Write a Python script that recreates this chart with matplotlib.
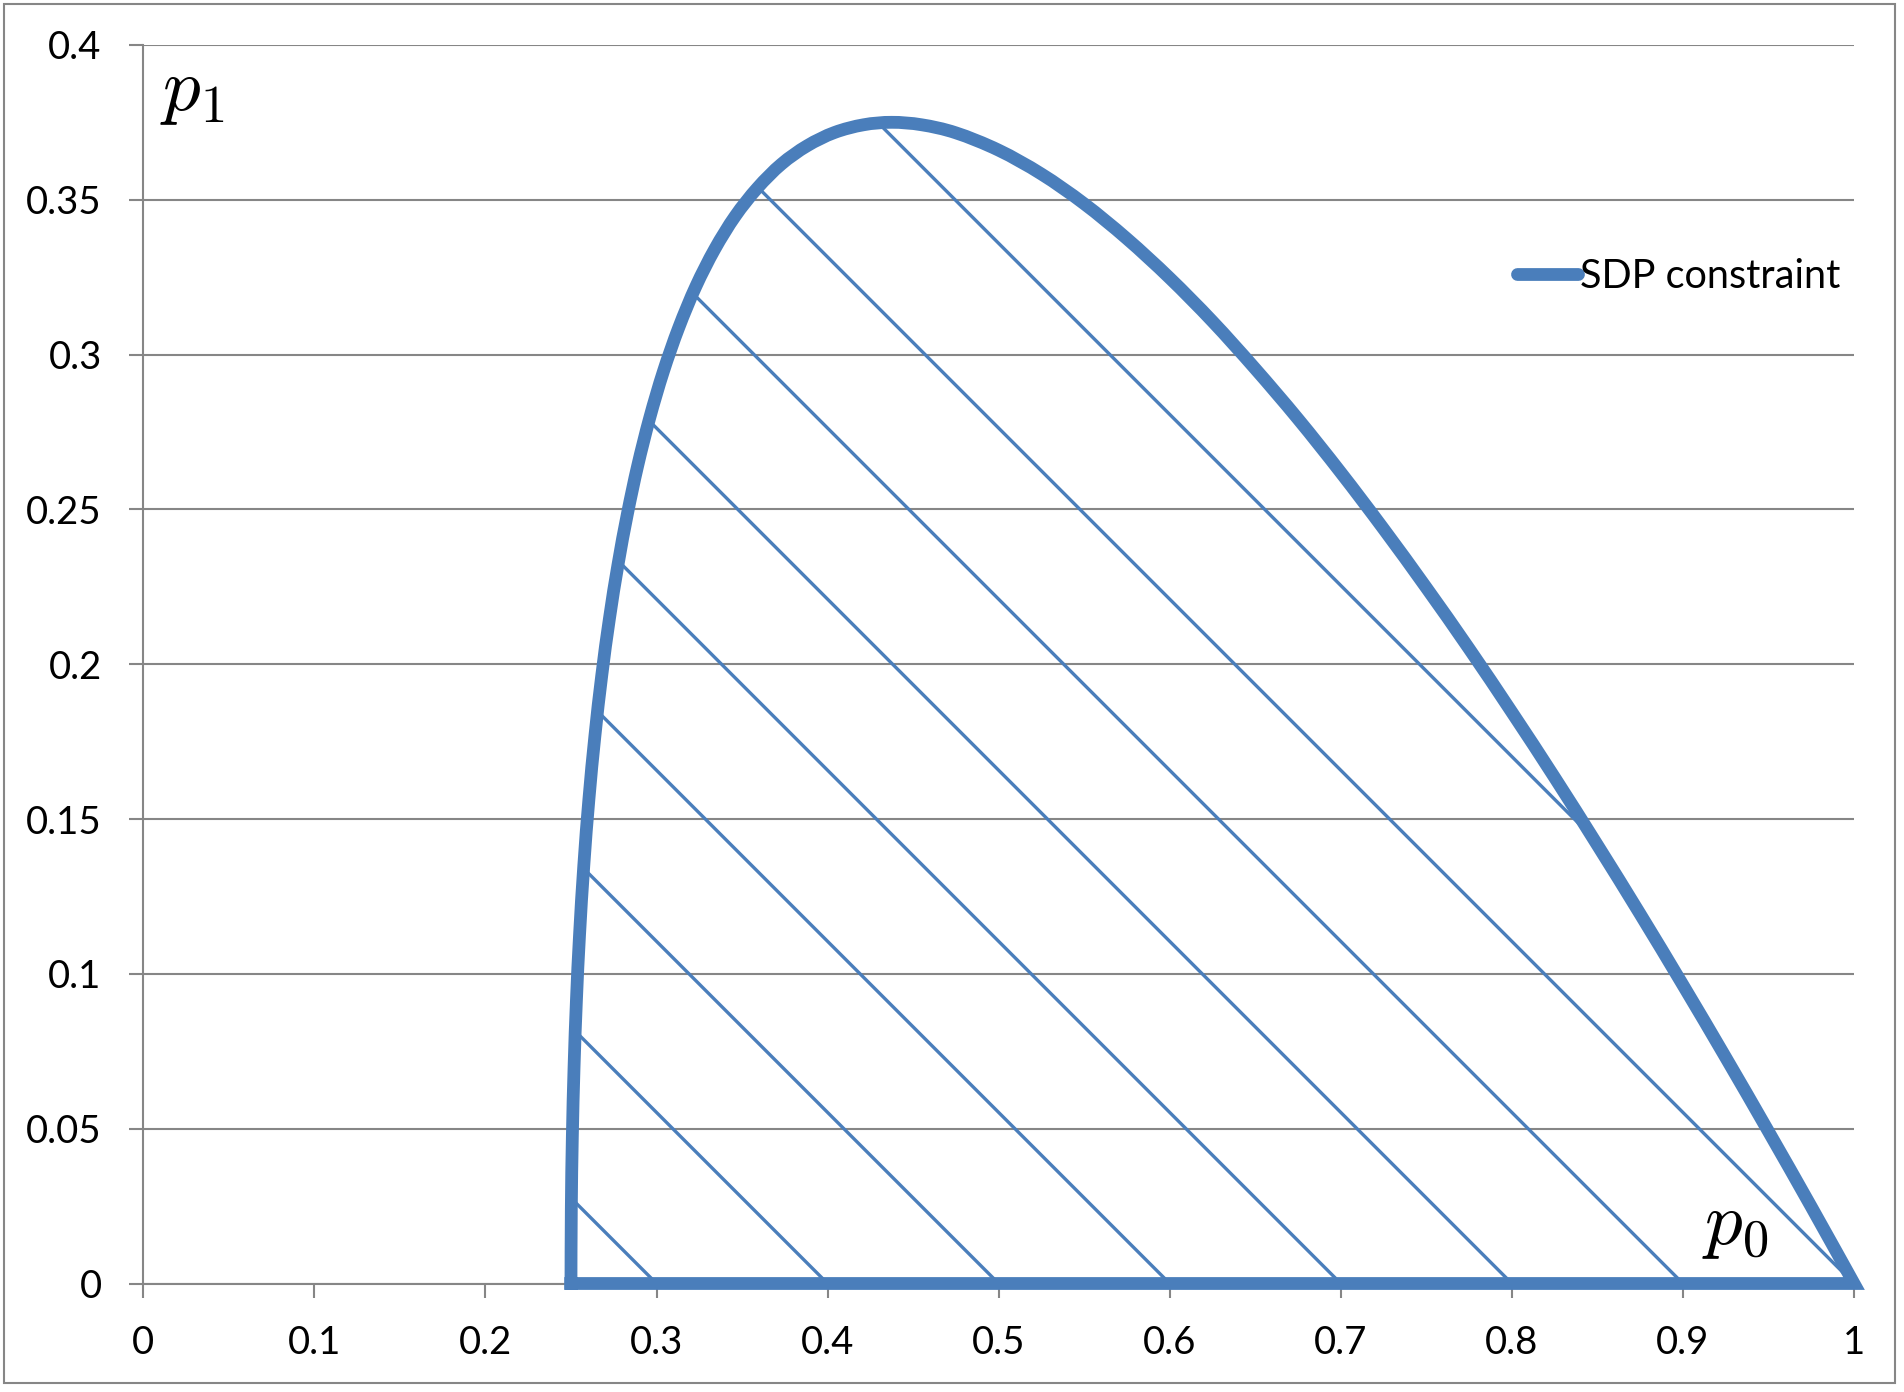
import numpy as np
import matplotlib
matplotlib.use("Agg")
import matplotlib.pyplot as plt
from matplotlib.lines import Line2D
from matplotlib.patches import Rectangle, PathPatch
from matplotlib.path import Path

# ---- data ----
curve_p0 = [0.25, 0.2502, 0.2508, 0.2518, 0.2532, 0.255, 0.2575, 0.2605, 0.264, 0.268,
            0.2725, 0.2775, 0.283, 0.289, 0.296, 0.304, 0.313, 0.323, 0.334, 0.346,
            0.359, 0.373, 0.388, 0.404, 0.421, 0.4375, 0.455, 0.475, 0.5, 0.525,
            0.55, 0.575, 0.6, 0.625, 0.65, 0.675, 0.7, 0.725, 0.75, 0.775,
            0.8, 0.825, 0.85, 0.875, 0.9, 0.925, 0.95, 0.975, 1.0]
curve_p1 = [0.0, 0.0241, 0.0474, 0.0699, 0.0916, 0.1125, 0.135, 0.1565, 0.1769, 0.1964,
            0.2148, 0.2322, 0.2486, 0.2641, 0.2795, 0.2945, 0.3087, 0.3220, 0.3340, 0.3447,
            0.3538, 0.3615, 0.3674, 0.3717, 0.3742, 0.375, 0.3742, 0.3716, 0.3660, 0.3583,
            0.3487, 0.3374, 0.3247, 0.3107, 0.2954, 0.2792, 0.2619, 0.2437, 0.2247, 0.2050,
            0.1845, 0.1634, 0.1416, 0.1193, 0.0964, 0.0730, 0.0491, 0.0248, 0.0]
base_p0 = [1.0, 0.25]
base_p1 = [0.0, 0.0]
hatch_intercepts = [0.3, 0.4, 0.5, 0.6, 0.7, 0.8, 0.9, 1.0, 1.108]
hatch_slope = -0.5525
x_ticks = [0, 0.1, 0.2, 0.3, 0.4, 0.5, 0.6, 0.7, 0.8, 0.9, 1.0]
x_labels = ["0", "0.1", "0.2", "0.3", "0.4", "0.5", "0.6", "0.7", "0.8", "0.9", "1"]
y_ticks = [0, 0.05, 0.1, 0.15, 0.2, 0.25, 0.3, 0.35, 0.4]
y_labels = ["0", "0.05", "0.1", "0.15", "0.2", "0.25", "0.3", "0.35", "0.4"]
series_name = "SDP constraint"

BLUE = "#4a7ebb"
GREY = "#868686"
W, H = 1904, 1392

plt.rcParams["font.family"] = ["Lato", "DejaVu Sans"]
plt.rcParams["mathtext.fontset"] = "cm"

fig = plt.figure(figsize=(W / 100, H / 100), dpi=100)
ax = fig.add_axes([143.3 / W, 1 - 1283.5 / H, (1854 - 143.3) / W, (1283.5 - 44.9) / H])
ax.set_xlim(0, 1)
ax.set_ylim(0, 0.4)

# grid & axes
ax.set_yticks(y_ticks)
ax.set_yticklabels(y_labels)
ax.set_xticks(x_ticks)
ax.set_xticklabels(x_labels)
ax.yaxis.grid(True, color=GREY, lw=1.5)
ax.set_axisbelow(True)
for s in ["top", "right"]:
    ax.spines[s].set_visible(False)
for s in ["left", "bottom"]:
    ax.spines[s].set_color(GREY)
    ax.spines[s].set_linewidth(1.5)
ax.tick_params(axis="both", direction="out", length=10, width=1.5, color=GREY,
               labelsize=27.5, labelcolor="black", pad=20)


def smooth_path(xs, ys, tail_x, tail_y):
    """Excel-style smoothed line: Catmull-Rom segments drawn as cubic Beziers,
    followed by straight segments for the tail."""
    P = np.column_stack([xs, ys]).astype(float)
    n = len(P)
    verts = [P[0]]
    codes = [Path.MOVETO]
    for i in range(n - 1):
        p0 = P[i - 1] if i > 0 else P[i]
        p1 = P[i]
        p2 = P[i + 1]
        p3 = P[i + 2] if i + 2 < n else P[i + 1]
        c1 = p1 + (p2 - p0) / 6.0
        c2 = p2 - (p3 - p1) / 6.0
        verts += [c1, c2, p2]
        codes += [Path.CURVE4] * 3
    for tx, ty in zip(tail_x[1:], tail_y[1:]):
        verts.append([tx, ty])
        codes.append(Path.LINETO)
    return Path(np.array(verts), codes)


outline = smooth_path(curve_p0, curve_p1, base_p0, base_p1)

# clip region for the hatch lines
clip_patch = PathPatch(outline, transform=ax.transData, facecolor="none",
                       edgecolor="none")
ax.add_patch(clip_patch)

for c in hatch_intercepts:
    xs = np.array([c - 1.0, c])
    ys = hatch_slope * (xs - c)
    ln, = ax.plot(xs, ys, color=BLUE, lw=2.4, zorder=3, solid_capstyle="butt")
    ln.set_clip_path(clip_patch)

curve_patch = PathPatch(outline, facecolor="none", edgecolor=BLUE, lw=9.2,
                        capstyle="projecting", joinstyle="miter", zorder=4,
                        clip_on=False)
ax.add_patch(curve_patch)

# legend
handle = Line2D([], [], color=BLUE, lw=9.2, solid_capstyle="round")
leg = fig.legend([handle], [series_name], loc="center left",
                 bbox_to_anchor=(1517 / W, 1 - 276.7 / H), frameon=False,
                 fontsize=28.5, borderpad=0, borderaxespad=0,
                 handlelength=1.55, handletextpad=0.05)

# axis labels as in reference
fig.text(160 / W, 1 - 58 / H, r"$p_1$", fontsize=54, ha="left", va="top")
fig.text(1702 / W, 1 - 1192 / H, r"$p_0$", fontsize=54, ha="left", va="top")

# chart border
fig.patches.append(Rectangle((4 / W, 1 - 1383 / H), (1895 - 4) / W, (1383 - 4) / H,
                             transform=fig.transFigure, fill=False,
                             edgecolor=GREY, lw=1.5))

fig.savefig("out.png", dpi=100, facecolor="white")
